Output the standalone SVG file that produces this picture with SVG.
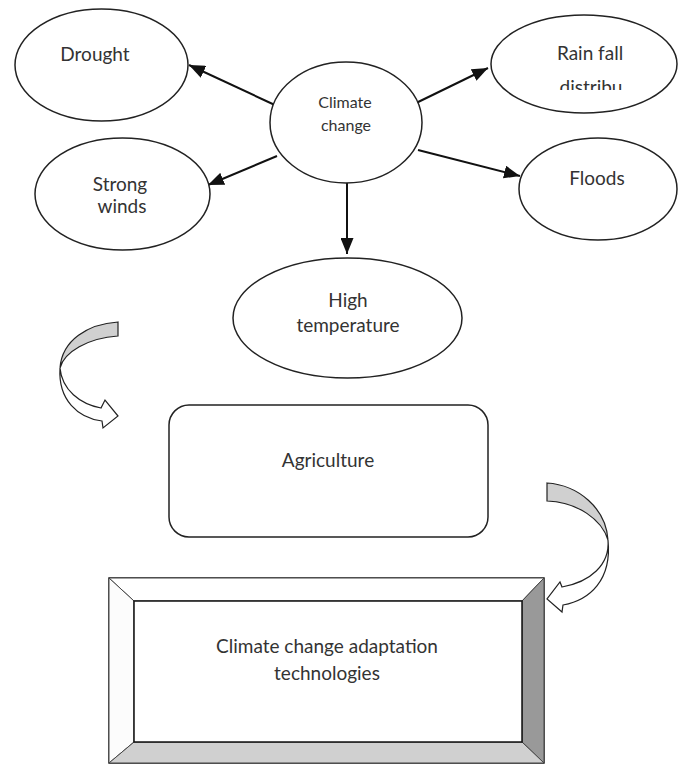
<svg xmlns="http://www.w3.org/2000/svg" width="678" height="765" viewBox="0 0 678 765">
<style>
.node{fill:#fff;stroke:#222;stroke-width:1.5}
.t{font-family:Lato,"Open Sans",sans-serif;font-size:19px;fill:#333;text-anchor:middle}
.s{font-size:16px}
.conn{stroke:#111;stroke-width:2;fill:none;marker-end:url(#ah)}
.curv{stroke:#222;stroke-width:1.2}
</style>
<defs>
<marker id="ah" markerUnits="userSpaceOnUse" markerWidth="17" markerHeight="13" refX="16" refY="6.5" orient="auto">
<path d="M0,0 L16,6.5 L0,13 Z" fill="#111"/>
</marker>
<clipPath id="rainclip"><rect x="480" y="60" width="198" height="30"/></clipPath>
</defs>
<rect width="678" height="765" fill="#fff"/>
<g id="connectors">
<line class="conn" x1="277" y1="106" x2="189" y2="65"/>
<line class="conn" x1="277" y1="156" x2="208" y2="185"/>
<line class="conn" x1="412" y1="105" x2="488" y2="68"/>
<line class="conn" x1="418" y1="150" x2="520" y2="176"/>
<line class="conn" x1="347" y1="183" x2="347" y2="254"/>
</g>
<g id="drought">
<ellipse class="node" cx="101.5" cy="65" rx="86.5" ry="56"/>
<text class="t" x="95" y="61">Drought</text>
</g>
<g id="strong-winds">
<ellipse class="node" cx="122.5" cy="194" rx="87.5" ry="56"/>
<text class="t" x="120" y="191">Strong</text>
<text class="t" x="122" y="213">winds</text>
</g>
<g id="climate-change">
<ellipse class="node" cx="346" cy="122.5" rx="76" ry="60.5"/>
<text class="t s" x="345" y="108">Climate</text>
<text class="t s" x="346" y="131">change</text>
</g>
<g id="rain-fall">
<ellipse class="node" cx="584" cy="64" rx="93" ry="49"/>
<text class="t" x="590" y="60">Rain fall</text>
<text class="t" x="591" y="94" font-size="26" fill="#222" clip-path="url(#rainclip)">distribu</text>
</g>
<g id="floods">
<ellipse class="node" cx="598" cy="189" rx="79" ry="51"/>
<text class="t" x="597" y="185">Floods</text>
</g>
<g id="high-temperature">
<ellipse class="node" cx="347.5" cy="318" rx="114.5" ry="60"/>
<text class="t" x="348" y="307">High</text>
<text class="t" x="348" y="332">temperature</text>
</g>
<g id="curved-arrow-left">
<path class="curv" fill="#d0d0d0" d="M118,322 C88,324 62,340 60,368 C64,352 88,338 118,336 Z"/>
<path class="curv" fill="#fff" d="M60,368 C62,390 80,404 101,408 L105,400 L118,416 L103,428 L102,421 C78,418 58,400 60,368 Z"/>
</g>
<g id="agriculture">
<rect class="node" x="169" y="405" width="319" height="132" rx="20" ry="20"/>
<text class="t" x="328" y="467">Agriculture</text>
</g>
<g id="curved-arrow-right">
<path class="curv" fill="#d0d0d0" d="M547,483 C578,485 606,508 608,540 C602,520 578,502 547,501 Z"/>
<path class="curv" fill="#fff" d="M608,540 C610,565 590,582 562,587 L560,582 L547,599 L562,612 L563,605 C590,600 612,580 608,540 Z"/>
</g>
<g id="adaptation">
<rect x="109" y="578" width="435" height="185" fill="#fff" stroke="#222" stroke-width="1.5"/>
<polygon points="109,578 544,578 522,601 134,601" fill="#fff" stroke="#444" stroke-width="1"/>
<polygon points="109,578 134,601 134,742 109,763" fill="#fcfcfc" stroke="#444" stroke-width="1"/>
<polygon points="544,578 544,763 522,742 522,601" fill="#999" stroke="#444" stroke-width="1"/>
<polygon points="109,763 134,742 522,742 544,763" fill="#d0d0d0" stroke="#444" stroke-width="1"/>
<rect x="134" y="601" width="388" height="141" fill="#fff" stroke="#111" stroke-width="1.5"/>
<text class="t" x="327" y="653">Climate change adaptation</text>
<text class="t" x="327" y="680">technologies</text>
</g>
</svg>
